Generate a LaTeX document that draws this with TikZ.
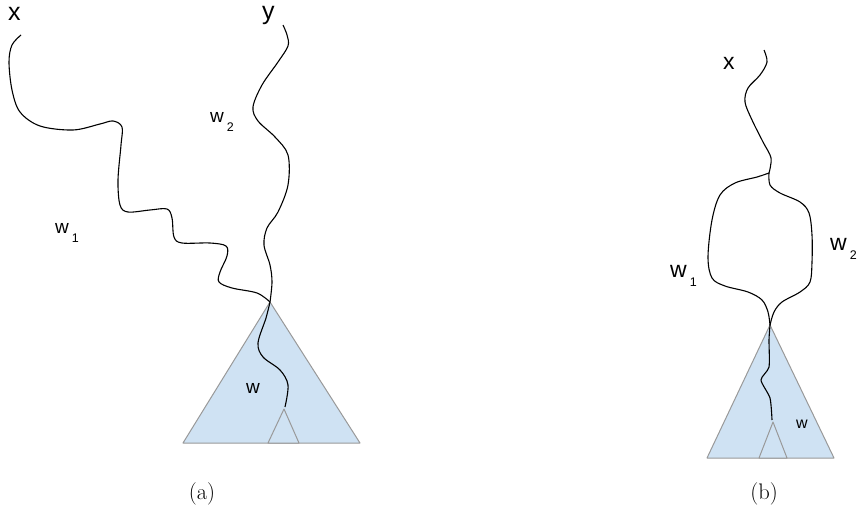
\documentclass[tikz,border=0pt]{standalone}
\usepackage{fontspec}
\usepackage{tikz}
\newfontfamily\labelfont{Liberation Sans}
\definecolor{treeblue}{HTML}{CFE2F3}
\definecolor{treegray}{HTML}{999999}
\newcommand{\wsub}[1]{w\kern3pt\raisebox{-9pt}{\fontsize{12.5}{14}\selectfont #1}}
\tikzset{
    tri/.style={fill=treeblue, draw=treegray, line width=1pt, line join=round},
    walk/.style={line width=1.1pt},
    lab/.style={font=\labelfont\fontsize{19}{22}\selectfont, inner sep=0pt},
}

\begin{document}
\begin{tikzpicture}[x=1pt, y=-1pt]
    \useasboundingbox (0,0) rectangle (859,524);
    % (a)
    \begin{scope}
        \coordinate (apA) at (270,302);
        \coordinate (leafA) at (284,409);
        \coordinate (xs) at (21,35);
        \coordinate (ys) at (283,25);
        \draw[tri] (apA) -- (183,443) -- (360,443) -- cycle;
        \draw[tri] (leafA) -- (268,443) -- (299,443) -- cycle;
        \draw[walk] plot[smooth, tension=0.55] coordinates {(xs) (12,45) (9,62) (12,90) (20,112)
            (40,126) (73,130) (100,124) (113,121) (122,127) (121,145) (118,180) (120,205)
            (128,212) (150,210) (167,209) (172,218) (174,237) (182,243) (210,243) (226,246)
            (227,256) (220,272) (219,282) (232,288) (257,293) (apA)};
        \draw[walk] plot[smooth, tension=0.55] coordinates {(ys) (287,35) (288,46) (278,62)
            (262,85) (253,107) (258,121) (275,137) (288,155) (288,185) (278,212) (267,228)
            (264,245) (270,265) (272,282) (apA)};
        \draw[walk] plot[smooth, tension=0.55] coordinates {(apA) (266,318) (258,343)
            (263,357) (280,370) (288,385) (285,407)};
        \node[lab, font=\labelfont\fontsize{25}{28}\selectfont, anchor=base west] (xa) at (8,21) {x};
        \node[lab, font=\labelfont\fontsize{25}{28}\selectfont, anchor=base west] (ya) at (262,20) {y};
        \node[lab, anchor=base west] (w2a) at (210,123) {\wsub{2}};
        \node[lab, anchor=base west] (w1a) at (55,233) {\wsub{1}};
        \node[lab, anchor=base west] (wa) at (246,393) {w};
        \node[font=\fontsize{22.5}{27}\selectfont] (capa) at (202,494) {(a)};
    \end{scope}
    % (b)
    \begin{scope}
        \coordinate (apB) at (770,325);
        \coordinate (leafB) at (773,422);
        \coordinate (xbs) at (764,50);
        \coordinate (jB) at (769,173);
        \draw[tri] (apB) -- (707,458) -- (834,458) -- cycle;
        \draw[tri] (leafB) -- (759,458) -- (787,458) -- cycle;
        \draw[walk] plot[smooth, tension=0.55] coordinates {(xbs) (767,62) (760,75) (748,88)
            (745,102) (752,120) (763,142) (771,158) (jB)};
        \draw[walk] plot[smooth, tension=0.55] coordinates {(jB) (757,177) (735,183) (720,195)
            (712,220) (708,257) (712,278) (725,286) (748,292) (762,300) (768,312) (apB)};
        \draw[walk] plot[smooth, tension=0.55] coordinates {(jB) (770,185) (780,193) (800,202)
            (809,213) (812,235) (812,262) (810,282) (800,292) (782,302) (774,312) (apB)};
        \draw[walk] plot[smooth, tension=0.4] coordinates {(apB) (769,340) (769,367)
            (761,380) (770,398) (772,420)};
        \node[lab, font=\labelfont\fontsize{23}{26}\selectfont, anchor=base west] (xb) at (723,70) {x};
        \node[lab, font=\labelfont\fontsize{23}{26}\selectfont, anchor=base west] (w1b) at (670,277) {\wsub{1}};
        \node[lab, font=\labelfont\fontsize{23}{26}\selectfont, anchor=base west] (w2b) at (830,250) {\wsub{2}};
        \node[lab, font=\labelfont\fontsize{16}{19}\selectfont, anchor=base west] (wb) at (796,428) {w};
        \node[font=\fontsize{22.5}{27}\selectfont] (capb) at (764,494) {(b)};
    \end{scope}
\end{tikzpicture}
\end{document}
